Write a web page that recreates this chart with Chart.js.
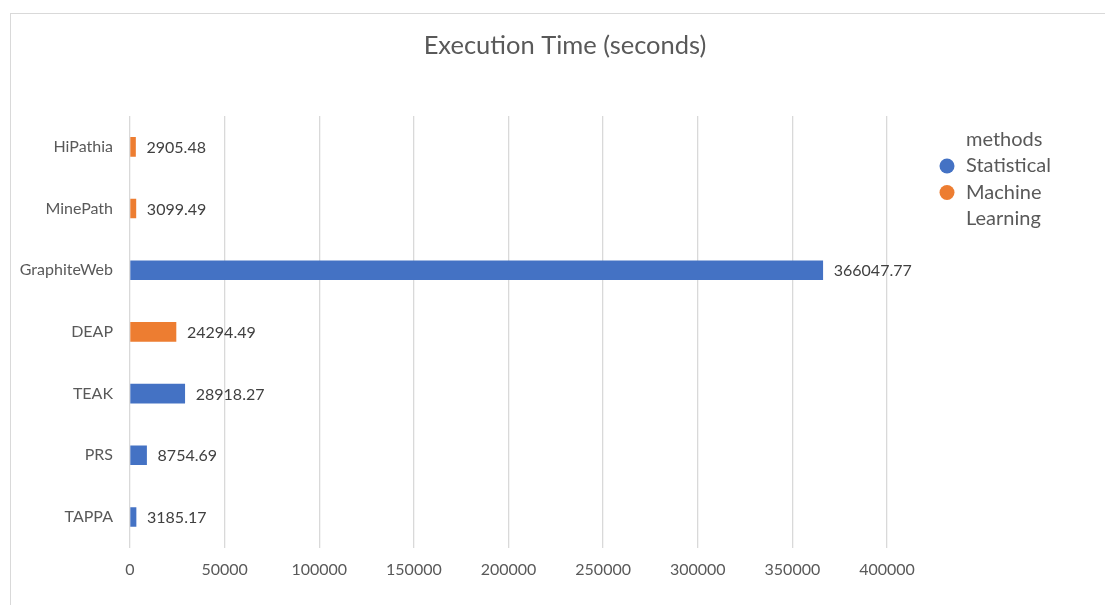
<!DOCTYPE html>
<html>
<head>
<meta charset="utf-8">
<script src="https://cdn.jsdelivr.net/npm/chart.js@4.4.0/dist/chart.umd.min.js"></script>
<style>
  html, body { margin: 0; padding: 0; background: #fff; overflow: hidden; }
  #wrap { position: relative; width: 1105px; height: 605px; }
  #frame { position: absolute; left: 10px; top: 13px; width: 1200px; height: 700px; border: 1.5px solid #d9d9d9; box-sizing: border-box; }
  canvas { position: absolute; left: 0; top: 0; }
</style>
</head>
<body>
<div id="wrap">
  <div id="frame"></div>
  <canvas id="c" width="1105" height="605"></canvas>
</div>
<script>
const categories = ['HiPathia', 'MinePath', 'GraphiteWeb', 'DEAP', 'TEAK', 'PRS', 'TAPPA'];
const statisticalValues = [null, null, 366047.77, null, 28918.27, 8754.69, 3185.17];
const machineLearningValues = [2905.48, 3099.49, null, 24294.49, null, null, null];
const seriesNames = ['Statistical', 'Machine Learning'];
const legendTitle = 'methods';
const chartTitle = 'Execution Time (seconds)';
const xTicks = [0, 50000, 100000, 150000, 200000, 250000, 300000, 350000, 400000];

const BLUE = '#4472C4';
const ORANGE = '#ED7D31';
const TEXT = '#595959';
const FONT = 'Lato, "Open Sans", sans-serif';

const valueLabels = {
  id: 'valueLabels',
  afterDatasetsDraw(chart) {
    const ctx = chart.ctx;
    ctx.save();
    ctx.font = '16px ' + FONT;
    ctx.fillStyle = '#404040';
    ctx.textAlign = 'left';
    ctx.textBaseline = 'middle';
    chart.data.datasets.forEach((ds, di) => {
      const meta = chart.getDatasetMeta(di);
      meta.data.forEach((bar, i) => {
        const v = ds.data[i];
        if (v === null || v === undefined) return;
        ctx.fillText(v.toFixed(2), bar.x + 11, bar.y + 1);
      });
    });
    ctx.restore();
  }
};

const titleAndLegend = {
  id: 'titleAndLegend',
  afterDraw(chart) {
    const ctx = chart.ctx;
    ctx.save();
    ctx.fillStyle = TEXT;
    ctx.textBaseline = 'middle';
    ctx.textAlign = 'center';
    ctx.font = '25.5px ' + FONT;
    ctx.fillText(chartTitle, 565, 46);

    ctx.textAlign = 'left';
    ctx.font = '20px ' + FONT;
    const x0 = 966;
    ctx.fillText(legendTitle, x0, 140);
    const rows = [[seriesNames[0]], ['Machine', 'Learning']];
    const colors = [BLUE, ORANGE];
    let y = 166;
    rows.forEach((lines, k) => {
      ctx.beginPath();
      ctx.fillStyle = colors[k];
      ctx.arc(947, y, 7.5, 0, Math.PI * 2);
      ctx.fill();
      ctx.fillStyle = TEXT;
      lines.forEach((t, j) => ctx.fillText(t, x0, y + j * 26.5));
      y += lines.length * 26.5;
    });
    ctx.restore();
  }
};

new Chart(document.getElementById('c'), {
  type: 'bar',
  data: {
    labels: categories,
    datasets: [
      { label: seriesNames[0], data: statisticalValues, backgroundColor: BLUE, barThickness: 19 },
      { label: seriesNames[1], data: machineLearningValues, backgroundColor: ORANGE, barThickness: 19 }
    ]
  },
  options: {
    indexAxis: 'y',
    responsive: false,
    animation: false,
    devicePixelRatio: 1,
    layout: { padding: { left: 0, right: 218, top: 116, bottom: 14 } },
    plugins: {
      legend: { display: false },
      tooltip: { enabled: false },
      title: { display: false }
    },
    scales: {
      x: {
        type: 'linear',
        min: 0,
        max: 400000,
        stacked: true,
        afterBuildTicks: s => { s.ticks = xTicks.map(v => ({ value: v })); },
        ticks: { color: TEXT, font: { family: FONT, size: 16 }, padding: 12, maxRotation: 0,
                 callback: v => String(v) },
        grid: { color: '#d9d9d9', lineWidth: 1.3, drawTicks: false },
        border: { display: false }
      },
      y: {
        stacked: true,
        afterFit: s => { s.width = 130; },
        ticks: { color: TEXT, font: { family: FONT, size: 16 }, padding: 17 },
        grid: { display: false, drawTicks: false },
        border: { display: false }
      }
    }
  },
  plugins: [valueLabels, titleAndLegend]
});
</script>
</body>
</html>
